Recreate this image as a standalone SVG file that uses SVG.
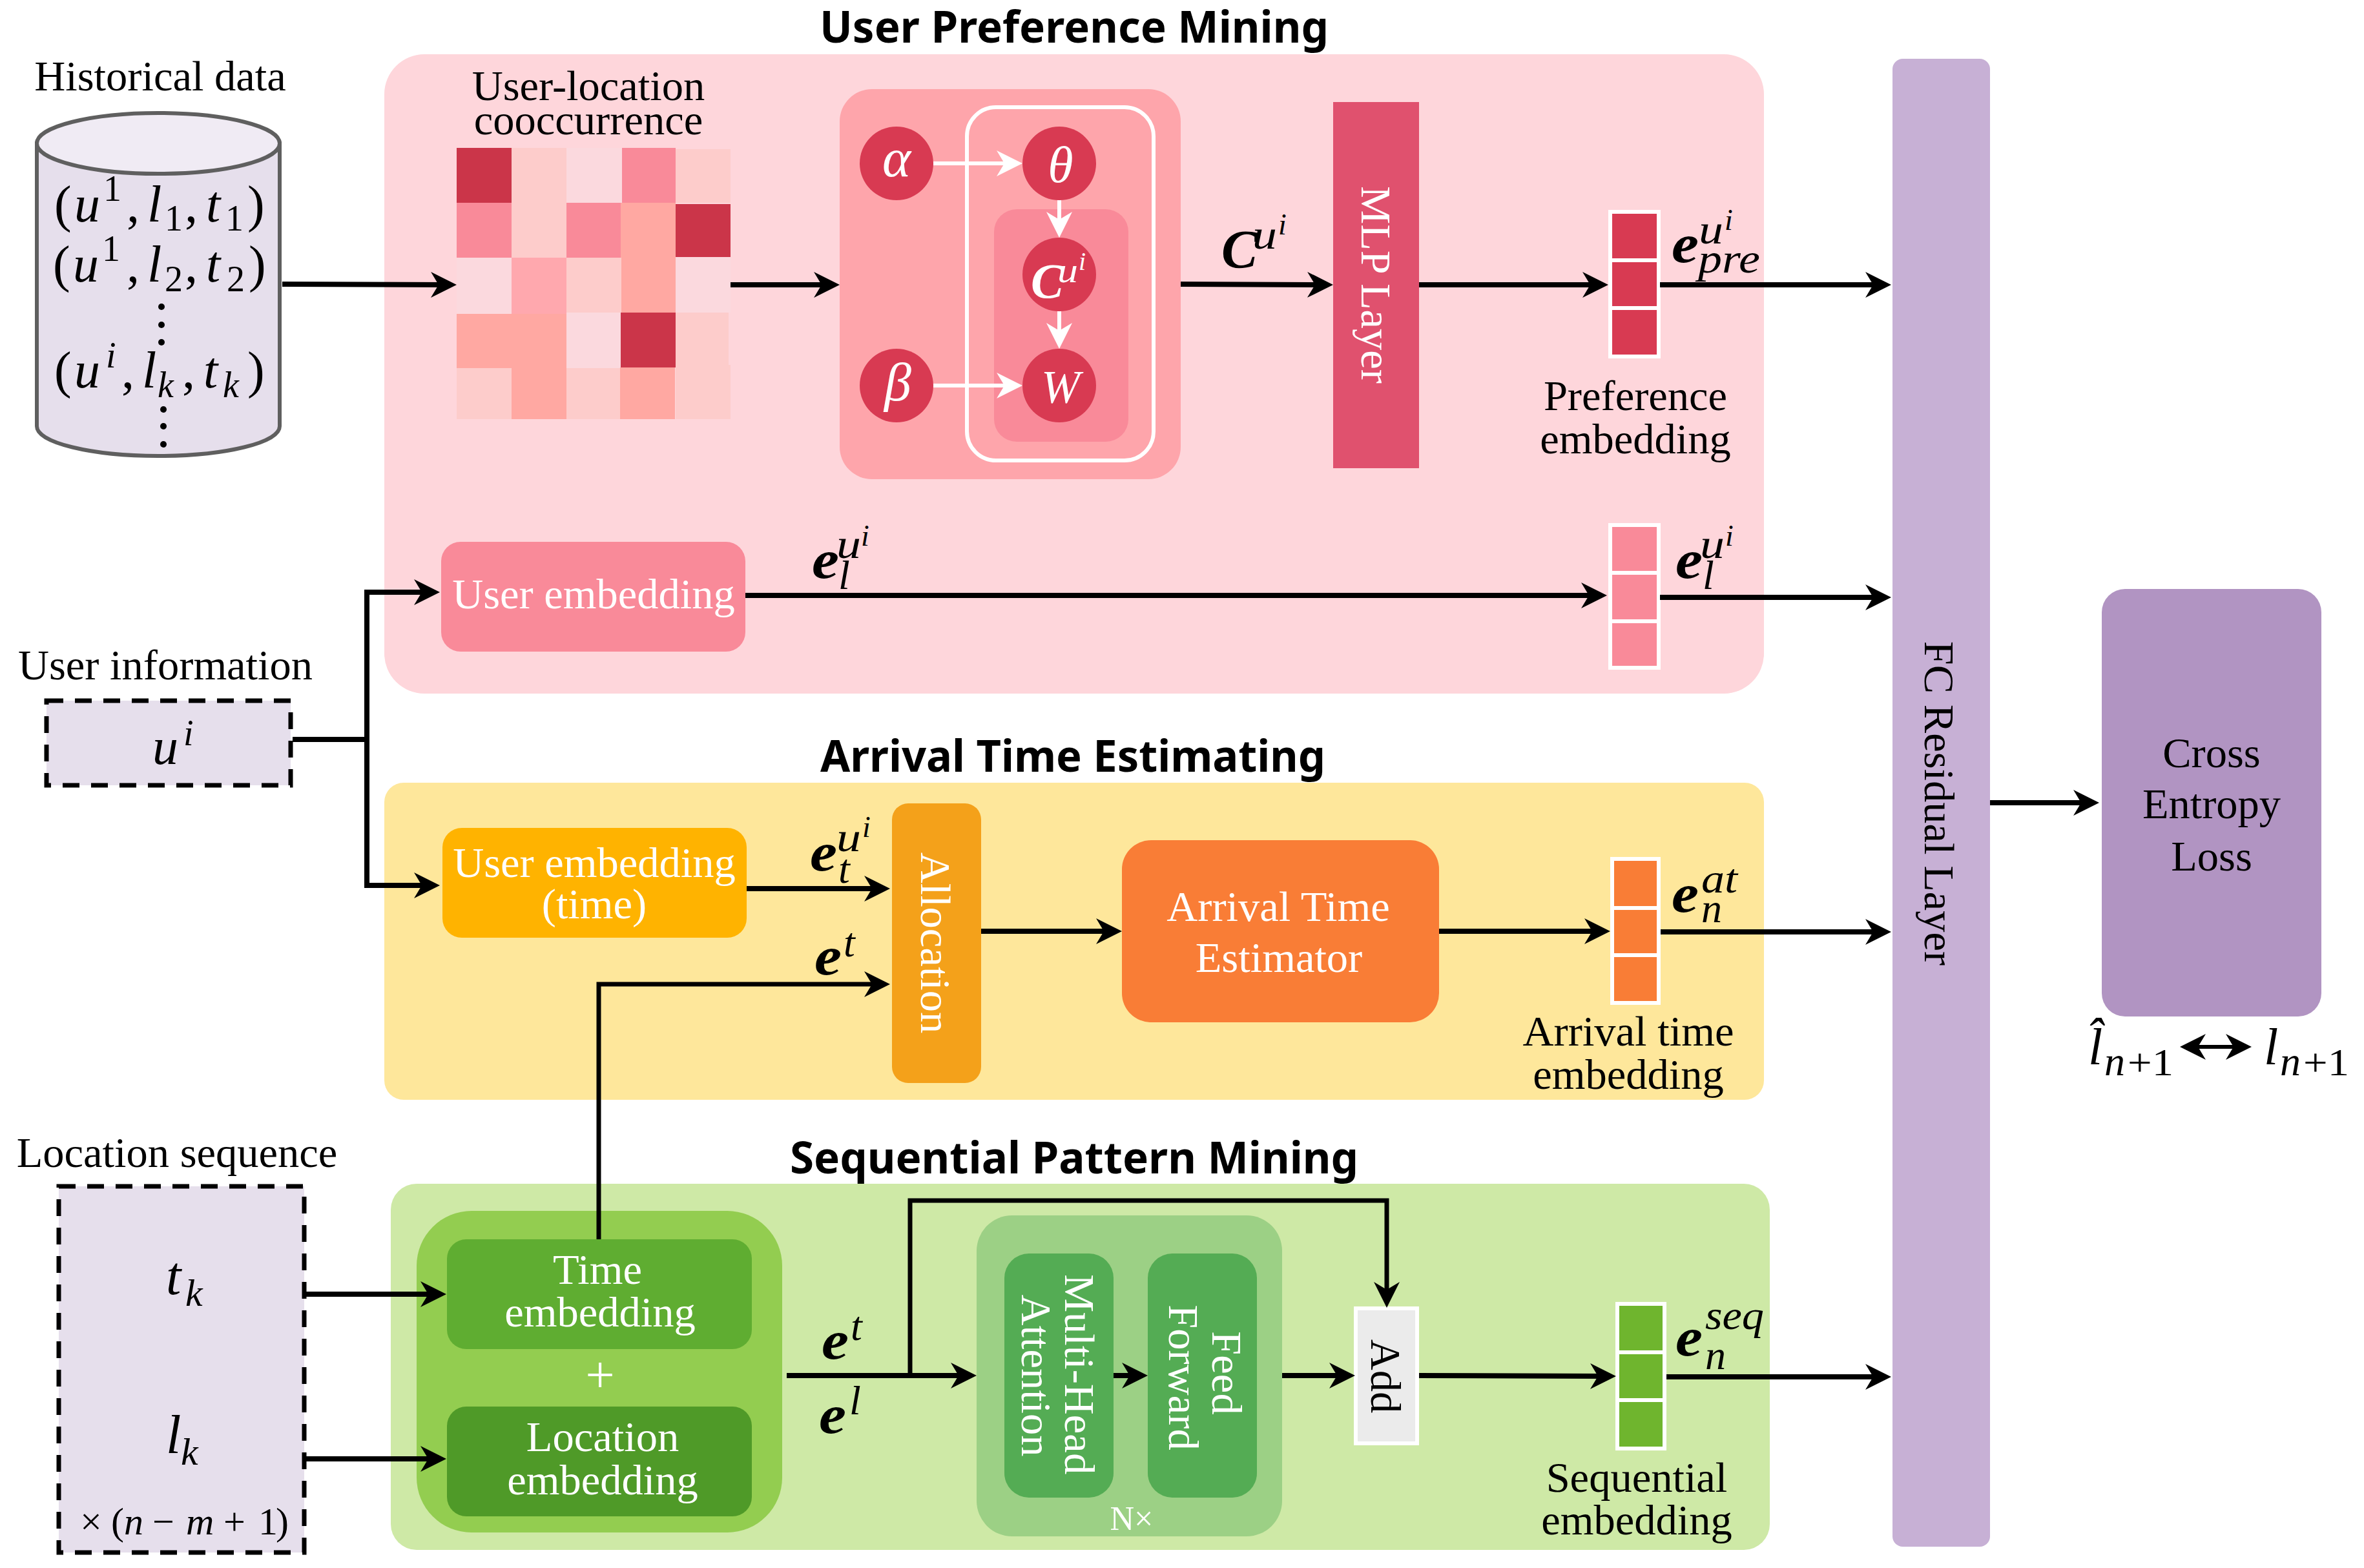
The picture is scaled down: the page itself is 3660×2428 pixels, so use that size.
<svg xmlns="http://www.w3.org/2000/svg" width="3660" height="2428" viewBox="0 0 3660 2428">
<style>
text{font-family:"Liberation Serif","Times New Roman",serif;font-size:66.5px;fill:#000}
.c{text-anchor:middle}
.w{fill:#fff}
.t{font-family:"Noto Sans","Open Sans",sans-serif;font-weight:700;font-size:68px;text-anchor:middle}
.i{font-style:italic}
.m{font-style:italic;font-size:80px}
.b{font-style:italic;font-weight:700;font-size:84px}
.u{font-style:italic;font-size:64px}
.s{font-style:italic;font-size:46px}
.n{font-size:56px}
.cell{stroke:#fff;stroke-width:6}
.dash{fill:#e6dfec;stroke:#000;stroke-width:7;stroke-dasharray:26 18}
.ln{fill:none;stroke:#000;stroke-width:8}
.lw{fill:none;stroke:#fff;stroke-width:6}
.ar{marker-end:url(#h)}
.aw{marker-end:url(#hw)}
</style>
<defs>
<marker id="h" viewBox="-2 -22 44 44" refX="28" refY="0" markerWidth="44" markerHeight="44" markerUnits="userSpaceOnUse" orient="auto-start-reverse"><path d="M0,-20 L40,0 L0,20 L12,0Z" fill="#000"/></marker>
<marker id="hw" viewBox="-2 -22 44 44" refX="28" refY="0" markerWidth="44" markerHeight="44" markerUnits="userSpaceOnUse" orient="auto"><path d="M0,-20 L40,0 L0,20 L12,0Z" fill="#fff"/></marker>
</defs>

<g id="panel-preference">
<rect x="595" y="84" width="2136" height="990" rx="62" fill="#fed6db"/>
<text class="t" x="1663" y="66" textLength="788" lengthAdjust="spacingAndGlyphs">User Preference Mining</text>
</g>
<g id="panel-arrival">
<rect x="595" y="1212" width="2136" height="491" rx="30" fill="#fee79b"/>
<text class="t" x="1661" y="1195" textLength="782" lengthAdjust="spacingAndGlyphs">Arrival Time Estimating</text>
</g>
<g id="panel-sequential">
<rect x="605" y="1833" width="2135" height="567" rx="40" fill="#cee9a6"/>
<text class="t" x="1663" y="1817" textLength="880" lengthAdjust="spacingAndGlyphs">Sequential Pattern Mining</text>
</g>

<g id="historical-data">
<text class="c" x="248" y="140">Historical data</text>
<path d="M57,222 V660 A188,46 0 0 0 433,660 V222 Z" fill="#e6dfec" stroke="#5f5f5f" stroke-width="6"/>
<ellipse cx="245" cy="222" rx="188" ry="47" fill="#f0ebf4" stroke="#5f5f5f" stroke-width="6"/>
<text class="m"><tspan x="84" y="343" font-style="normal">(</tspan><tspan x="115">u</tspan><tspan class="n" font-style="normal" x="160" y="311">1</tspan><tspan x="196" y="343" font-style="normal">,</tspan><tspan x="228">l</tspan><tspan class="n" font-style="normal" x="255" y="357">1</tspan><tspan x="286" y="343" font-style="normal">,</tspan><tspan x="319">t</tspan><tspan class="n" font-style="normal" x="349" y="357">1</tspan><tspan x="383" y="343" font-style="normal">)</tspan></text>
<text class="m"><tspan x="82" y="436" font-style="normal">(</tspan><tspan x="113">u</tspan><tspan class="n" font-style="normal" x="158" y="404">1</tspan><tspan x="196" y="436" font-style="normal">,</tspan><tspan x="228">l</tspan><tspan class="n" font-style="normal" x="255" y="451">2</tspan><tspan x="286" y="436" font-style="normal">,</tspan><tspan x="319">t</tspan><tspan class="n" font-style="normal" x="351" y="451">2</tspan><tspan x="385" y="436" font-style="normal">)</tspan></text>
<text class="m"><tspan x="84" y="600" font-style="normal">(</tspan><tspan x="115">u</tspan><tspan class="n" x="164" y="569">i</tspan><tspan x="188" y="600" font-style="normal">,</tspan><tspan x="220">l</tspan><tspan class="n" x="244" y="615">k</tspan><tspan x="282" y="600" font-style="normal">,</tspan><tspan x="315">t</tspan><tspan class="n" x="345" y="615">k</tspan><tspan x="383" y="600" font-style="normal">)</tspan></text>
<circle cx="250" cy="475" r="5"/><circle cx="250" cy="503" r="5"/><circle cx="250" cy="530" r="5"/>
<circle cx="253" cy="634" r="5"/><circle cx="253" cy="660" r="5"/><circle cx="253" cy="688" r="5"/>
</g>

<g id="cooccurrence">
<text class="c" x="911" y="155">User-location</text>
<text class="c" x="911" y="208">cooccurrence</text>
<rect x="707" y="229" width="85" height="85" fill="#cb3549"/><rect x="792" y="229" width="85" height="85" fill="#fdcccb"/><rect x="877" y="229" width="86" height="85" fill="#fbd9de"/><rect x="963" y="229" width="83" height="85" fill="#f98a99"/><rect x="1046" y="231" width="85" height="83" fill="#fdcccb"/>
<rect x="707" y="314" width="85" height="85" fill="#f98a99"/><rect x="792" y="314" width="85" height="85" fill="#fdcccb"/><rect x="877" y="314" width="86" height="85" fill="#f98a99"/><rect x="961" y="314" width="85" height="85" fill="#ffa8a2"/><rect x="1046" y="316" width="85" height="82" fill="#cb3549"/>
<rect x="707" y="399" width="85" height="87" fill="#fbd9de"/><rect x="792" y="399" width="85" height="87" fill="#ffa8ae"/><rect x="877" y="399" width="85" height="85" fill="#fdcccb"/><rect x="962" y="399" width="84" height="85" fill="#ffa8a2"/><rect x="1046" y="398" width="85" height="86" fill="#fbd9de"/>
<rect x="707" y="486" width="170" height="85" fill="#ffa8a2"/><rect x="877" y="484" width="84" height="86" fill="#fbd9de"/><rect x="961" y="484" width="85" height="85" fill="#cb3549"/><rect x="1046" y="484" width="82" height="85" fill="#fdcccb"/>
<rect x="707" y="570" width="85" height="79" fill="#fdcccb"/><rect x="792" y="570" width="85" height="79" fill="#ffa8a2"/><rect x="877" y="570" width="84" height="79" fill="#fdcccb"/><rect x="960" y="569" width="85" height="80" fill="#ffa8a2"/><rect x="1046" y="565" width="85" height="84" fill="#fdcccb"/>
</g>

<g id="topic-model">
<rect x="1300" y="138" width="528" height="604" rx="50" fill="#fea5ab"/>
<rect x="1539" y="324" width="208" height="360" rx="35" fill="#f98a99"/>
<rect x="1497" y="166" width="289" height="547" rx="45" fill="none" stroke="#fff" stroke-width="6"/>
<circle cx="1388" cy="253" r="57" fill="#d83a52"/>
<circle cx="1640" cy="253" r="57" fill="#d83a52"/>
<circle cx="1640" cy="425" r="57" fill="#d83a52"/>
<circle cx="1640" cy="597" r="57" fill="#d83a52"/>
<circle cx="1388" cy="597" r="57" fill="#d83a52"/>
<text class="c w i" style="font-size:84px" x="1388" y="273">α</text>
<text class="c w i" style="font-size:80px" x="1642" y="282">θ</text>
<text class="c w i" style="font-size:84px" x="1390" y="620">β</text>
<text class="c w i" style="font-size:72px" x="1642" y="623">W</text>
<text class="w i" style="font-size:76px;font-weight:700" x="1596" y="461">C</text>
<text class="w i" style="font-size:54px" x="1637" y="437" textLength="32" lengthAdjust="spacingAndGlyphs">u</text>
<text class="w i" style="font-size:40px" x="1670" y="418">i</text>
</g>

<g id="mlp-layer">
<rect x="2064" y="158" width="133" height="567" fill="#e0516e"/>
<text class="c w" transform="translate(2108 441) rotate(90)">MLP Layer</text>
</g>

<g id="preference-embedding">
<rect class="cell" x="2493" y="328" width="75" height="75" fill="#d83a52"/>
<rect class="cell" x="2493" y="403" width="75" height="74" fill="#d83a52"/>
<rect class="cell" x="2493" y="477" width="75" height="75" fill="#d83a52"/>
<text class="c" x="2532" y="635">Preference</text>
<text class="c" x="2532" y="702">embedding</text>
</g>

<g id="user-embedding">
<rect x="683" y="839" width="471" height="170" rx="30" fill="#f98a99"/>
<text class="c w" x="919" y="942">User embedding</text>
</g>

<g id="user-stack">
<rect class="cell" x="2493" y="813" width="75" height="74" fill="#f98a99"/>
<rect class="cell" x="2493" y="887" width="75" height="75" fill="#f98a99"/>
<rect class="cell" x="2493" y="962" width="75" height="72" fill="#f98a99"/>
</g>

<g id="user-information">
<text class="c" x="256" y="1052">User information</text>
<rect class="dash" x="72" y="1085" width="378" height="131"/>
<text class="m" x="236" y="1183">u</text>
<text class="i n" x="284" y="1154">i</text>
</g>

<g id="user-embedding-time">
<rect x="685" y="1282" width="471" height="170" rx="30" fill="#ffb300"/>
<text class="c w" x="920" y="1358">User embedding</text>
<text class="c w" x="920" y="1422">(time)</text>
</g>

<g id="allocation">
<rect x="1381" y="1244" width="138" height="433" rx="25" fill="#f4a11a"/>
<text class="c w" transform="translate(1426 1460) rotate(90)">Allocation</text>
</g>

<g id="arrival-estimator">
<rect x="1737" y="1301" width="491" height="282" rx="45" fill="#f97d36"/>
<text class="c w" x="1979" y="1426">Arrival Time</text>
<text class="c w" x="1980" y="1505">Estimator</text>
</g>

<g id="arrival-embedding">
<rect class="cell" x="2496" y="1330" width="72" height="76" fill="#f97d36"/>
<rect class="cell" x="2496" y="1406" width="72" height="73" fill="#f97d36"/>
<rect class="cell" x="2496" y="1479" width="72" height="74" fill="#f97d36"/>
<text class="c" x="2521" y="1619">Arrival time</text>
<text class="c" x="2521" y="1686">embedding</text>
</g>

<g id="location-sequence">
<text class="c" x="274" y="1807">Location sequence</text>
<rect class="dash" x="91" y="1837" width="380" height="567"/>
<text class="m" x="257" y="2004" style="font-size:84px">t</text>
<text class="i" style="font-size:60px" x="287" y="2022">k</text>
<text class="m" x="257" y="2250" style="font-size:84px">l</text>
<text class="i" style="font-size:60px" x="280" y="2268">k</text>
<text style="font-size:60px"><tspan x="124" y="2376">×</tspan><tspan x="172">(</tspan><tspan x="192" font-style="italic">n</tspan><tspan x="236">−</tspan><tspan x="288" font-style="italic">m</tspan><tspan x="346">+</tspan><tspan x="400">1</tspan><tspan x="427">)</tspan></text>
</g>

<g id="embedding-block">
<rect x="645" y="1875" width="566" height="498" rx="85" fill="#93cd50"/>
<rect x="692" y="1919" width="472" height="170" rx="30" fill="#5fad31"/>
<text class="c w" x="925" y="1988">Time</text>
<text class="c w" x="929" y="2054">embedding</text>
<text class="c w" style="font-size:80px" x="929" y="2156">+</text>
<rect x="692" y="2178" width="472" height="170" rx="30" fill="#4f9a28"/>
<text class="c w" x="933" y="2247">Location</text>
<text class="c w" x="933" y="2314">embedding</text>
</g>

<g id="attention-block">
<rect x="1512" y="1882" width="473" height="497" rx="55" fill="#9cd085"/>
<rect x="1555" y="1941" width="169" height="378" rx="38" fill="#54ac54"/>
<rect x="1777" y="1941" width="169" height="378" rx="38" fill="#54ac54"/>
<text class="c w" transform="translate(1649 2128) rotate(90)">Multi-Head</text>
<text class="c w" transform="translate(1582 2130) rotate(90)">Attention</text>
<text class="c w" transform="translate(1877 2126) rotate(90)">Feed</text>
<text class="c w" transform="translate(1810 2133) rotate(90)">Forward</text>
<text class="c w" style="font-size:52px" x="1752" y="2369">N×</text>
</g>

<g id="add">
<rect x="2099" y="2026" width="95" height="209" fill="#ebebeb" stroke="#fff" stroke-width="6"/>
<text class="c" transform="translate(2123 2131) rotate(90)">Add</text>
</g>

<g id="sequential-embedding">
<rect class="cell" x="2504" y="2019" width="73" height="75" fill="#6fb52e"/>
<rect class="cell" x="2504" y="2094" width="73" height="74" fill="#6fb52e"/>
<rect class="cell" x="2504" y="2168" width="73" height="75" fill="#6fb52e"/>
<text class="c" x="2534" y="2310">Sequential</text>
<text class="c" x="2534" y="2376">embedding</text>
</g>

<g id="fc-residual">
<rect x="2930" y="91" width="151" height="2304" rx="16" fill="#c7b0d5"/>
<text class="c" transform="translate(2980 1244) rotate(90)">FC Residual Layer</text>
</g>

<g id="cross-entropy">
<rect x="3254" y="912" width="340" height="662" rx="36" fill="#b194c2"/>
<text class="c" x="3424" y="1188">Cross</text>
<text class="c" x="3424" y="1267">Entropy</text>
<text class="c" x="3424" y="1348">Loss</text>
</g>

<g id="connectors">
<path class="ln ar" d="M437,440 L695,441"/>
<path class="ln ar" d="M1131,441 H1288"/>
<path class="ln ar" d="M1828,440 L2052,441"/>
<path class="ln ar" d="M2197,441 H2478"/>
<path class="ln ar" d="M2570,441 H2916"/>
<path class="ln ar" d="M1154,922 H2476"/>
<path class="ln ar" d="M2570,925 H2916"/>
<path class="ln" d="M453,1145 H572"/>
<path class="ln ar" d="M568,1145 V917 H669"/>
<path class="ln ar" d="M568,1145 V1371 H669"/>
<path class="ln ar" d="M1156,1376 H1366"/>
<path class="ln ar" d="M927,1919 V1524 H1366" style="stroke-width:7"/>
<path class="ln ar" d="M1519,1442 H1725"/>
<path class="ln ar" d="M2228,1442 H2481"/>
<path class="ln ar" d="M2571,1443 H2916"/>
<path class="ln ar" d="M471,2004 H679"/>
<path class="ln ar" d="M471,2259 H679"/>
<path class="ln ar" d="M1218,2130 H1500"/>
<path class="ln ar" d="M1409,2130 V1859 H2147 V2013" style="stroke-width:7"/>
<path class="ln ar" d="M1724,2130 H1765"/>
<path class="ln ar" d="M1985,2130 H2086"/>
<path class="ln ar" d="M2197,2130 L2490,2131"/>
<path class="ln ar" d="M2580,2132 H2916"/>
<path class="ln ar" d="M3081,1243 H3238"/>
<path class="ln" d="M3387,1621 H3474" style="marker-start:url(#h);marker-end:url(#h);stroke-width:6"/>
<path class="lw aw" d="M1445,253 H1571"/>
<path class="lw aw" d="M1445,597 H1571"/>
<path class="lw aw" d="M1640,310 V356"/>
<path class="lw aw" d="M1640,482 V528"/>
</g>

<g id="labels">
<text class="b" x="1891" y="415">C</text><text class="u" x="1939" y="385" textLength="38" lengthAdjust="spacingAndGlyphs">u</text><text class="s" x="1979" y="363">i</text>
<text class="b" x="2588" y="406" textLength="42" lengthAdjust="spacingAndGlyphs">e</text><text class="u" x="2630" y="377" textLength="38" lengthAdjust="spacingAndGlyphs">u</text><text class="s" x="2670" y="356">i</text><text class="u" x="2629" y="422" textLength="96" lengthAdjust="spacingAndGlyphs">pre</text>
<text class="b" x="1257" y="895" textLength="42" lengthAdjust="spacingAndGlyphs">e</text><text class="u" x="1295" y="864" textLength="38" lengthAdjust="spacingAndGlyphs">u</text><text class="s" x="1333" y="845">i</text><text class="u" x="1298" y="912">l</text>
<text class="b" x="2594" y="895" textLength="42" lengthAdjust="spacingAndGlyphs">e</text><text class="u" x="2632" y="864" textLength="38" lengthAdjust="spacingAndGlyphs">u</text><text class="s" x="2671" y="845">i</text><text class="u" x="2636" y="912">l</text>
<text class="b" x="1254" y="1348" textLength="42" lengthAdjust="spacingAndGlyphs">e</text><text class="u" x="1295" y="1318" textLength="38" lengthAdjust="spacingAndGlyphs">u</text><text class="s" x="1335" y="1296">i</text><text class="u" x="1298" y="1367">t</text>
<text class="b" x="1261" y="1509" textLength="42" lengthAdjust="spacingAndGlyphs">e</text><text class="u" x="1306" y="1481">t</text>
<text class="b" x="2588" y="1412" textLength="42" lengthAdjust="spacingAndGlyphs">e</text><text class="u" x="2634" y="1382" textLength="56" lengthAdjust="spacingAndGlyphs">at</text><text class="u" x="2634" y="1428">n</text>
<text class="b" x="1272" y="2104" textLength="42" lengthAdjust="spacingAndGlyphs">e</text><text class="u" x="1317" y="2075">t</text>
<text class="b" x="1268" y="2219" textLength="42" lengthAdjust="spacingAndGlyphs">e</text><text class="u" x="1315" y="2190">l</text>
<text class="b" x="2594" y="2099" textLength="42" lengthAdjust="spacingAndGlyphs">e</text><text class="u" x="2640" y="2058" textLength="91" lengthAdjust="spacingAndGlyphs">seq</text><text class="u" x="2640" y="2120">n</text>
<text class="m" x="3233" y="1648">l̂</text><text class="u" x="3258" y="1665">n</text><text style="font-size:60px" x="3294" y="1665" textLength="71" lengthAdjust="spacingAndGlyphs">+1</text>
<text class="m" x="3505" y="1648">l</text><text class="u" x="3530" y="1665">n</text><text style="font-size:60px" x="3566" y="1665" textLength="71" lengthAdjust="spacingAndGlyphs">+1</text>
</g>
</svg>
